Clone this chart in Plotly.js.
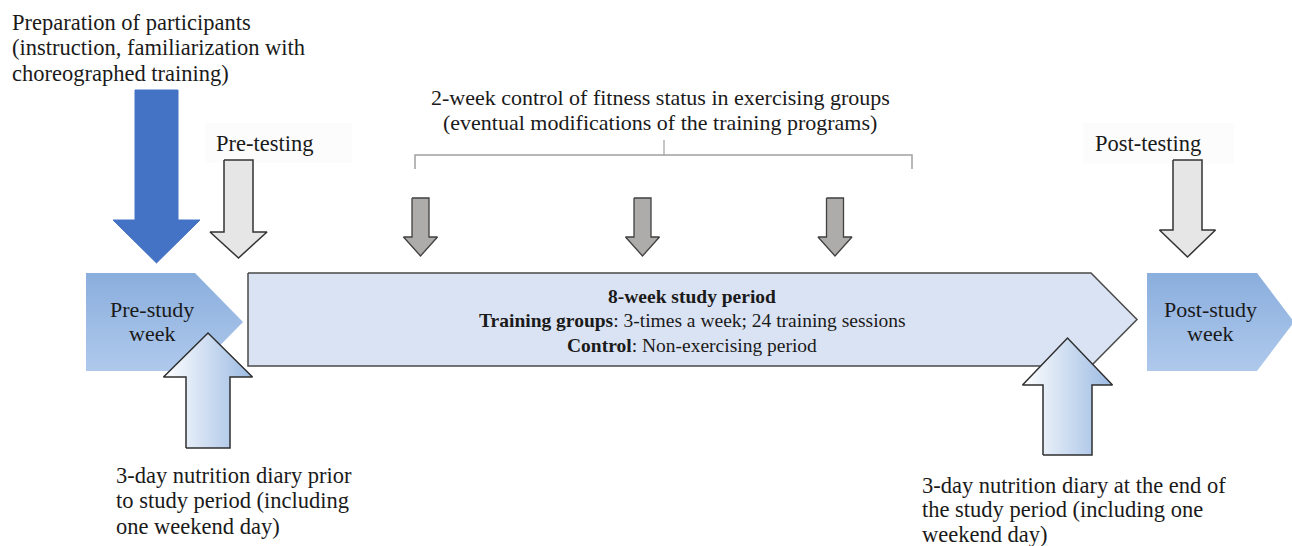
<!DOCTYPE html>
<html>
<head>
<meta charset="utf-8">
<script src="https://cdn.plot.ly/plotly-3.0.1.min.js"></script>
<style>html,body{margin:0;padding:0;background:#fff;}#chart{width:1292px;height:546px;}</style>
</head>
<body>
<div id="chart"></div>
<script>
// ---- Text content of the diagram ----
const prepLabel = ["Preparation of participants", "(instruction, familiarization with", "choreographed training)"];
const preTestLabel = ["Pre-testing"];
const postTestLabel = ["Post-testing"];
const controlLabel = ["2-week control of fitness status in exercising groups", "(eventual modifications of the training programs)"];
const studyLabel = ["<b>8-week study period</b>", "<b>Training groups</b>: 3-times a week; 24 training sessions", "<b>Control</b>: Non-exercising period"];
const preWeekLabel = ["Pre-study", "week"];
const postWeekLabel = ["Post-study", "week"];
const dietPreLabel = ["3-day nutrition diary prior", "to study period (including", "one weekend day)"];
const dietPostLabel = ["3-day nutrition diary at the end of", "the study period (including one", "weekend day)"];

// ---- Geometry helpers (layout, pixel-like coordinates) ----
function downArrow(cx, shaftW, top, headY, headW, tipY) {
  const s = shaftW / 2, h = headW / 2;
  return {x: [cx - s, cx + s, cx + s, cx + h, cx, cx - h, cx - s, cx - s],
          y: [top, top, headY, headY, tipY, headY, headY, top]};
}
function upArrow(cx, shaftW, bottom, headY, headW, tipY) {
  const s = shaftW / 2, h = headW / 2;
  return {x: [cx - s, cx + s, cx + s, cx + h, cx, cx - h, cx - s, cx - s],
          y: [bottom, bottom, headY, headY, tipY, headY, headY, bottom]};
}
function pentagon(x0, x1, xt, y0, y1) {
  return {x: [x0, x1, xt, x1, x0, x0], y: [y0, y0, (y0 + y1) / 2, y1, y1, y0]};
}
function poly(p, fill, line, lw, grad) {
  const t = {x: p.x, y: p.y, type: 'scatter', mode: 'lines', fill: 'toself',
    fillcolor: fill, line: {color: line || 'rgba(0,0,0,0)', width: lw || 0},
    hoverinfo: 'skip', showlegend: false};
  if (grad) t.fillgradient = grad;
  return t;
}

const pentGrad = {type: 'vertical', colorscale: [[0, '#AFC9EC'], [1, '#8AAEDD']]};
const upGrad = {type: 'horizontal', colorscale: [[0, '#FFFFFF'], [1, '#9BBAE3']]};

const traces = [
  // faint label backgrounds
  poly({x: [205, 352, 352, 205, 205], y: [123, 123, 163, 163, 123]}, '#FCFCFC'),
  poly({x: [1083, 1234, 1234, 1083, 1083], y: [123, 123, 164, 164, 123]}, '#FCFCFC'),
  // main study period arrow
  poly({x: [248, 1091, 1137, 1091, 248, 248], y: [273, 273, 319.5, 366, 366, 273]}, '#DAE3F3', '#4A4A4A', 1.5),
  // pre-study / post-study pentagons
  poly(pentagon(86, 195, 243, 273, 371), '#9DBBE4', null, 0, pentGrad),
  poly(pentagon(1147, 1257, 1294, 273, 371), '#9DBBE4', null, 0, pentGrad),
  // preparation arrow (solid blue)
  poly(downArrow(156.5, 43, 90, 220, 87, 263), '#4472C4', '#4472C4', 1),
  // pre / post testing arrows
  poly(downArrow(238.5, 29, 160, 232, 57, 258), '#E7E6E6', '#333333', 1.5),
  poly(downArrow(1187.5, 29, 160, 230, 56, 257), '#E7E6E6', '#333333', 1.5),
  // 2-week control arrows
  poly(downArrow(420.5, 17, 198, 237, 34, 256), '#AEABAB', '#404040', 1.3),
  poly(downArrow(642.5, 17, 198, 237, 34, 256), '#AEABAB', '#404040', 1.3),
  poly(downArrow(835, 17, 198, 237, 34, 256), '#AEABAB', '#404040', 1.3),
  // nutrition diary arrows
  poly(upArrow(208, 44, 448, 377, 89, 333), '#D0DEF2', '#2F2F2F', 1.5, upGrad),
  poly(upArrow(1067.5, 49, 455, 385, 90, 338), '#D0DEF2', '#2F2F2F', 1.5, upGrad)
];

const serif = 'Liberation Serif, Times New Roman, serif';
// one annotation per text line, so the line spacing matches the figure
function block(lines, x, y0, dy, size, xanchor) {
  return lines.map((t, i) => ({text: t, x: x, y: y0 + i * dy, xref: 'x', yref: 'y',
    showarrow: false, xanchor: xanchor || 'center', yanchor: 'middle',
    font: {family: serif, size: size, color: '#1A1A1A'}}));
}

const annotations = [].concat(
  block(prepLabel, 10, 22, 25.5, 22.5, 'left'),
  block(preTestLabel, 264, 143, 0, 22.5),
  block(postTestLabel, 1148, 143, 0, 22.5),
  block(controlLabel, 660, 97, 25, 22),
  block(studyLabel, 692, 296, 24.5, 19.5),
  block(preWeekLabel, 152, 309, 24, 22),
  block(postWeekLabel, 1210, 309, 24, 22),
  block(dietPreLabel, 114, 475, 25.5, 22.5, 'left'),
  block(dietPostLabel, 920, 485, 24.5, 22.5, 'left')
);

const bracketColor = '#A0A0A0';
const shapes = [
  {type: 'path', path: 'M415,169 L415,155 L912,155 L912,169', xref: 'x', yref: 'y', line: {color: bracketColor, width: 1.5}},
  {type: 'line', x0: 664, x1: 664, y0: 140, y1: 155, xref: 'x', yref: 'y', line: {color: bracketColor, width: 1.2}}
];

const layout = {
  width: 1292, height: 546,
  margin: {l: 0, r: 0, t: 0, b: 0},
  paper_bgcolor: '#FFFFFF', plot_bgcolor: '#FFFFFF',
  xaxis: {range: [0, 1292], visible: false, fixedrange: true},
  yaxis: {range: [546, 0], visible: false, fixedrange: true},
  showlegend: false,
  annotations: annotations,
  shapes: shapes
};

Plotly.newPlot('chart', traces, layout, {displayModeBar: false, staticPlot: true});
</script>
</body>
</html>
